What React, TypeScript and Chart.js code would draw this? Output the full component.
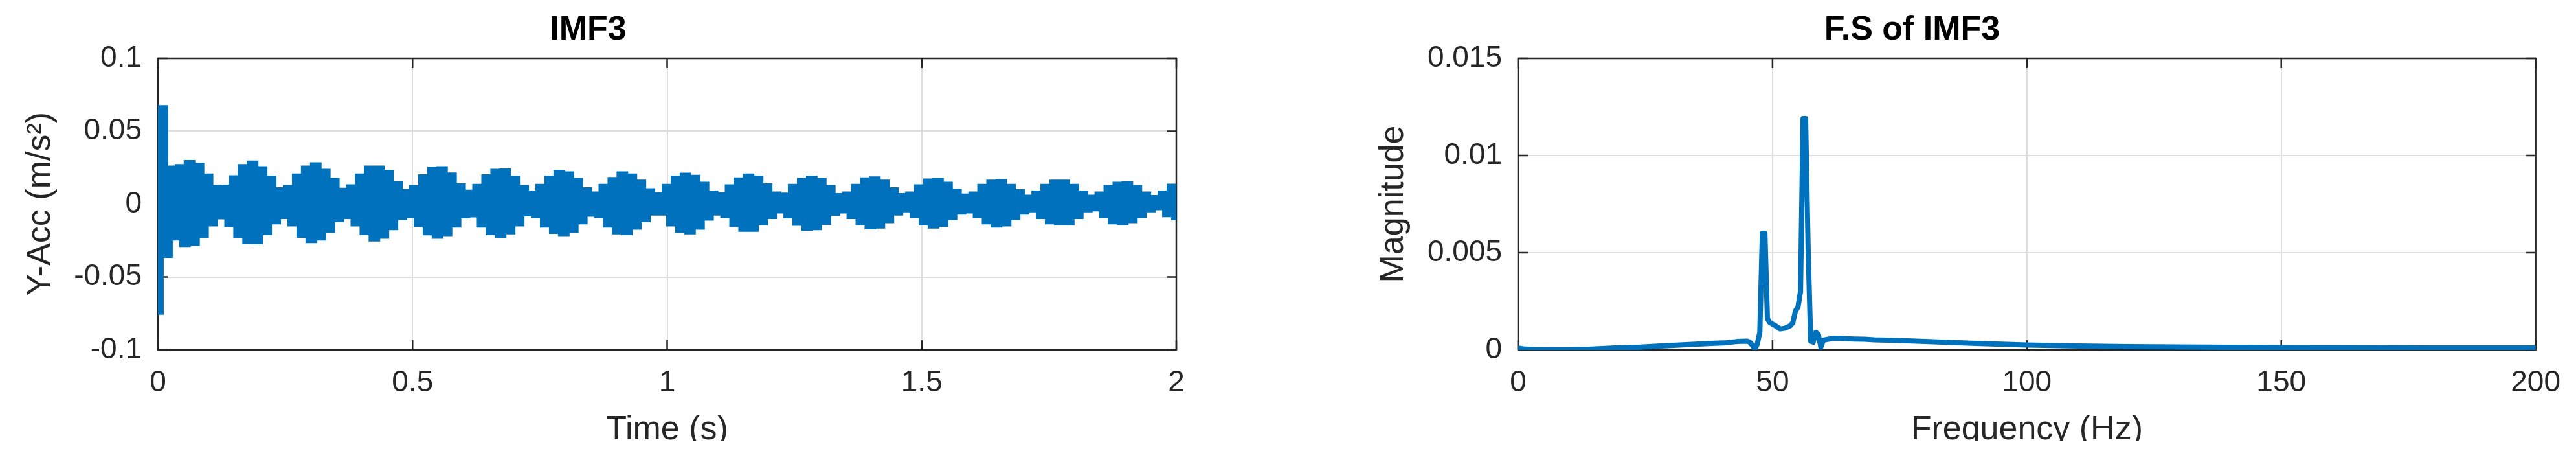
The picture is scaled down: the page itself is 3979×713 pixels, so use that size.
import React, { useEffect, useRef } from "react";
import { Chart, registerables } from "chart.js";

Chart.register(...registerables);

// ---------- data ----------
// IMF3 (time domain): per-cycle upper (peak) and lower (trough) envelope values
const CYCLE_DT = 0.01771; // seconds per carrier cycle (sampling grid of the envelope readings)
const IMF3_UPPER = [
  0.067, 0.0256, 0.0266, 0.0293, 0.0275, 0.0201, 0.0122, 0.0125, 0.0189, 0.0266,
  0.029, 0.0251, 0.0186, 0.0107, 0.0122, 0.0201, 0.0256, 0.0278, 0.0233, 0.0171,
  0.0103, 0.0127, 0.0201, 0.0256, 0.0256, 0.0226, 0.0147, 0.0096, 0.0122, 0.0196,
  0.0248, 0.0251, 0.0208, 0.0133, 0.009, 0.013, 0.0196, 0.0233, 0.0236, 0.0186,
  0.0122, 0.0085, 0.013, 0.0186, 0.0226, 0.0216, 0.0171, 0.0107, 0.0078, 0.013,
  0.0177, 0.0216, 0.0201, 0.0159, 0.01, 0.0073, 0.013, 0.0186, 0.0207, 0.0192,
  0.0144, 0.0085, 0.0073, 0.0127, 0.0174, 0.0201, 0.0186, 0.0133, 0.0078, 0.007,
  0.013, 0.0171, 0.0186, 0.0171, 0.0122, 0.0067, 0.0078, 0.013, 0.0174, 0.0181,
  0.0159, 0.0107, 0.0067, 0.0078, 0.0127, 0.0167, 0.0171, 0.0144, 0.0097, 0.0063,
  0.0078, 0.013, 0.0159, 0.0162, 0.013, 0.0093, 0.0056, 0.0085, 0.013, 0.0159,
  0.0159, 0.013, 0.0085, 0.0056, 0.0078, 0.0122, 0.0144, 0.0147, 0.0122, 0.0078,
  0.0053, 0.0085, 0.0131,
];
const IMF3_LOWER = [
  -0.075, -0.036, -0.0241, -0.0285, -0.0278, -0.0226, -0.0144, -0.0096, -0.0149, -0.0226,
  -0.0263, -0.0267, -0.0204, -0.013, -0.0093, -0.0144, -0.0223, -0.0259, -0.0241, -0.0189,
  -0.0115, -0.0093, -0.0144, -0.0204, -0.0248, -0.0229, -0.017, -0.01, -0.0085, -0.0149,
  -0.0205, -0.0229, -0.0211, -0.0152, -0.0089, -0.0082, -0.0152, -0.0204, -0.0226, -0.0199,
  -0.0144, -0.0075, -0.0085, -0.0152, -0.0196, -0.0211, -0.0189, -0.013, -0.0078, -0.0085,
  -0.0152, -0.0199, -0.0204, -0.0167, -0.0115, -0.007, -0.007, -0.0144, -0.0189, -0.0199,
  -0.0167, -0.0104, -0.007, -0.0085, -0.0149, -0.0181, -0.0181, -0.0137, -0.0093, -0.0056,
  -0.0089, -0.014, -0.0174, -0.017, -0.0134, -0.0072, -0.0056, -0.0093, -0.0137, -0.0164,
  -0.0159, -0.0122, -0.007, -0.0048, -0.0085, -0.0137, -0.0159, -0.0149, -0.01, -0.0063,
  -0.0056, -0.0085, -0.013, -0.0152, -0.0144, -0.01, -0.0063, -0.0048, -0.0093, -0.013,
  -0.0137, -0.0137, -0.0093, -0.0048, -0.0041, -0.0085, -0.013, -0.0137, -0.0122, -0.0085,
  -0.0048, -0.0033, -0.0081, -0.0101,
];

// F.S of IMF3 (spectrum)
const FREQ_HZ = [
  0, 1, 3, 5, 9, 14, 19, 24, 28, 33, 38, 41, 43, 45, 45.5, 46, 46.5, 47, 47.5, 48,
  48.5, 49, 49.5, 50.5, 51.5, 52.5, 53.5, 54, 54.5, 55, 55.5, 56, 56.5, 57, 57.5, 58,
  58.5, 59, 59.5, 60, 61, 62, 64, 66, 68, 70, 75, 80, 85, 90, 95, 100, 110, 120, 130,
  140, 150, 165, 180, 200,
];
const FS_MAGNITUDE = [
  0.00009, 0.00005, 0.00002, 0.00001, 0.0, 0.00003, 0.0001, 0.00014, 0.0002, 0.00027,
  0.00033, 0.00037, 0.00043, 0.00045, 0.0004, 0.00025, 0.00002, 0.0003, 0.0009, 0.006,
  0.006, 0.0016, 0.0014, 0.00126, 0.00108, 0.00112, 0.00125, 0.0014, 0.002, 0.0022,
  0.003, 0.0119, 0.0119, 0.0052, 0.00045, 0.0004, 0.0009, 0.0008, 0.00014, 0.0005,
  0.00055, 0.0006, 0.00058, 0.00056, 0.00055, 0.00052, 0.00048, 0.00043, 0.00038, 0.00033,
  0.00029, 0.00025, 0.0002, 0.00017, 0.00015, 0.00013, 0.00012, 0.00011, 0.0001, 0.0001,
];

const TIME_RANGE = [0, 2];
const TIME_STEP = 0.5;
const ACC_RANGE = [-0.1, 0.1];
const ACC_STEP = 0.05;
const FREQ_RANGE = [0, 200];
const FREQ_STEP = 50;
const MAG_RANGE = [0, 0.015];
const MAG_STEP = 0.005;

// ---------- styling ----------
const FONT = "'Liberation Sans', Arial, Helvetica, sans-serif";
const AXIS_COLOR = "#262626";
const GRID_COLOR = "#dedede";
const LINE_COLOR = "#0072BD";
const H = 713;
const CUT_Y = 680;

const fmt = (v: number | string) => String(Number(Number(v).toFixed(6)));

const matlabBox = {
  id: "matlabBox",
  beforeDatasetsDraw(chart: any) {
    const { ctx, chartArea: a, scales } = chart;
    const tl = 15;
    ctx.save();
    ctx.strokeStyle = AXIS_COLOR;
    ctx.lineWidth = 2.5;
    ctx.beginPath();
    scales.x.ticks.forEach((t: any) => {
      const px = scales.x.getPixelForValue(t.value);
      ctx.moveTo(px, a.bottom);
      ctx.lineTo(px, a.bottom - tl);
      ctx.moveTo(px, a.top);
      ctx.lineTo(px, a.top + tl);
    });
    scales.y.ticks.forEach((t: any) => {
      const py = scales.y.getPixelForValue(t.value);
      ctx.moveTo(a.left, py);
      ctx.lineTo(a.left + tl, py);
      ctx.moveTo(a.right, py);
      ctx.lineTo(a.right - tl, py);
    });
    ctx.stroke();
    ctx.strokeRect(a.left, a.top, a.right - a.left, a.bottom - a.top);
    ctx.restore();
  },
  afterDraw(chart: any) {
    const { ctx, width, height } = chart;
    ctx.save();
    ctx.fillStyle = "#ffffff";
    ctx.fillRect(0, CUT_Y, width, height - CUT_Y);
    ctx.restore();
  },
};

function baseOptions(opts: {
  title: string;
  xTitle: string;
  yTitle: string;
  xRange: number[];
  xStep: number;
  yRange: number[];
  yStep: number;
  yWidth: number;
  yTitlePad: number;
  rightPad: number;
}) {
  const tickFont = { family: FONT, size: 46 };
  const labelFont = { family: FONT, size: 52, lineHeight: 1.2 };
  return {
    responsive: false,
    maintainAspectRatio: false,
    animation: false,
    devicePixelRatio: 1,
    events: [],
    layout: { padding: { left: 0, right: opts.rightPad, top: 0, bottom: 0 } },
    plugins: {
      legend: { display: false },
      tooltip: { enabled: false },
      title: {
        display: true,
        text: opts.title,
        color: "#000000",
        font: { family: FONT, size: 52, weight: "bold", lineHeight: 1.2 },
        padding: { top: 15.8, bottom: 11.8 },
      },
    },
    scales: {
      x: {
        type: "linear",
        min: opts.xRange[0],
        max: opts.xRange[1],
        afterFit: (s: any) => {
          s.height = H - 540;
        },
        border: { display: false },
        grid: { color: GRID_COLOR, lineWidth: 2, drawTicks: false },
        ticks: {
          stepSize: opts.xStep,
          color: AXIS_COLOR,
          font: tickFont,
          padding: 24,
          maxRotation: 0,
          autoSkip: false,
          callback: (v: any) => fmt(v),
        },
        title: {
          display: true,
          text: opts.xTitle,
          color: AXIS_COLOR,
          font: labelFont,
          padding: { top: 0, bottom: 18 },
        },
      },
      y: {
        type: "linear",
        min: opts.yRange[0],
        max: opts.yRange[1],
        afterFit: (s: any) => {
          s.width = opts.yWidth;
        },
        border: { display: false },
        grid: { color: GRID_COLOR, lineWidth: 2, drawTicks: false },
        ticks: {
          stepSize: opts.yStep,
          color: AXIS_COLOR,
          font: tickFont,
          padding: 25,
          autoSkip: false,
          callback: (v: any) => fmt(v),
        },
        title: {
          display: true,
          text: opts.yTitle,
          color: AXIS_COLOR,
          font: labelFont,
          padding: { top: opts.yTitlePad, bottom: 0 },
        },
      },
    },
  };
}

function imfConfig() {
  const upper = IMF3_UPPER.map((v, i) => ({ x: i * CYCLE_DT, y: v }));
  upper.push({ x: TIME_RANGE[1], y: IMF3_UPPER[IMF3_UPPER.length - 1] });
  const lower = IMF3_LOWER.map((v, j) => ({ x: (j - 0.5) * CYCLE_DT, y: v }));
  lower.push({ x: TIME_RANGE[1] + CYCLE_DT, y: IMF3_LOWER[IMF3_LOWER.length - 1] });
  const ds = (data: any[]) => ({
    data,
    borderColor: LINE_COLOR,
    backgroundColor: LINE_COLOR,
    borderWidth: 4,
    pointRadius: 0,
    stepped: true,
    fill: "origin",
    tension: 0,
  });
  return {
    type: "line",
    data: { datasets: [ds(upper), ds(lower)] },
    options: baseOptions({
      title: "IMF3",
      xTitle: "Time (s)",
      yTitle: "Y-Acc (m/s²)",
      xRange: TIME_RANGE,
      xStep: TIME_STEP,
      yRange: ACC_RANGE,
      yStep: ACC_STEP,
      yWidth: 244,
      yTitlePad: 31,
      rightPad: 173,
    }),
    plugins: [matlabBox],
  };
}

function fsConfig() {
  return {
    type: "line",
    data: {
      datasets: [
        {
          data: FREQ_HZ.map((f, i) => ({ x: f, y: FS_MAGNITUDE[i] })),
          borderColor: LINE_COLOR,
          borderWidth: 8,
          pointRadius: 0,
          fill: false,
          tension: 0,
          borderJoinStyle: "round",
          borderCapStyle: "round",
        },
      ],
    },
    options: baseOptions({
      title: "F.S of IMF3",
      xTitle: "Frequency (Hz)",
      yTitle: "Magnitude",
      xRange: FREQ_RANGE,
      xStep: FREQ_STEP,
      yRange: MAG_RANGE,
      yStep: MAG_STEP,
      yWidth: 355,
      yTitlePad: 131,
      rightPad: 62,
    }),
    plugins: [matlabBox],
  };
}

function Panel({ left, width, makeConfig }: { left: number; width: number; makeConfig: () => any }) {
  const ref = useRef<HTMLCanvasElement | null>(null);
  useEffect(() => {
    if (!ref.current) return;
    const chart = new Chart(ref.current, makeConfig());
    return () => chart.destroy();
  }, []);
  return (
    <div style={{ position: "absolute", left, top: 0, width, height: H }}>
      <canvas ref={ref} width={width} height={H} style={{ display: "block", width, height: H }} />
    </div>
  );
}

export default function App() {
  return (
    <div
      style={{
        position: "absolute",
        left: 0,
        top: 0,
        width: 3979,
        height: H,
        background: "#ffffff",
        overflow: "hidden",
      }}
    >
      <Panel left={0} width={1990} makeConfig={imfConfig} />
      <Panel left={1990} width={1989} makeConfig={fsConfig} />
    </div>
  );
}
